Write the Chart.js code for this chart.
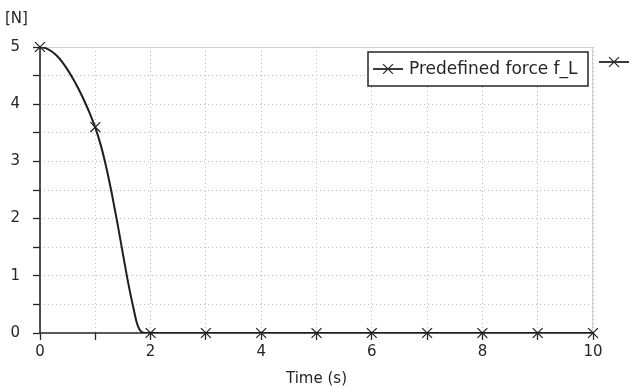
<!DOCTYPE html>
<html>
<head>
<meta charset="utf-8">
<script src="https://cdn.jsdelivr.net/npm/chart.js@4"></script>
<style>
  html, body { margin: 0; padding: 0; background: #fff; }
  #wrap { width: 637px; height: 389px; position: relative; }
</style>
</head>
<body>
<div id="wrap"><canvas id="forceChart"></canvas></div>
<script>
// curve (time in s, force in N)
const curveTime  = [0, 0.1, 0.2, 0.3, 0.4, 0.5, 0.6, 0.7, 0.8, 0.9, 1.0, 1.1, 1.2, 1.3, 1.4, 1.5, 1.6, 1.7, 1.75, 1.8, 1.85, 1.9, 2, 3, 4, 5, 6, 7, 8, 9, 10];
const curveForce = [5, 4.98, 4.93, 4.85, 4.74, 4.60, 4.44, 4.26, 4.06, 3.84, 3.59, 3.28, 2.89, 2.43, 1.92, 1.38, 0.85, 0.39, 0.18, 0.06, 0.01, 0, 0, 0, 0, 0, 0, 0, 0, 0, 0];
// sampled markers
const markerTime  = [0, 1, 2, 3, 4, 5, 6, 7, 8, 9, 10];
const markerForce = [5, 3.6, 0, 0, 0, 0, 0, 0, 0, 0, 0];
const seriesLabel = 'Predefined force f_L';
const yUnit = '[N]';
const xTitle = 'Time (s)';

const ink = '#262626';
const fontFam = "'DejaVu Sans', sans-serif";

function drawCross(ctx, x, y, r) {
    const d = r * Math.SQRT1_2;
    ctx.beginPath();
    ctx.moveTo(x - d, y - d); ctx.lineTo(x + d, y + d);
    ctx.moveTo(x - d, y + d); ctx.lineTo(x + d, y - d);
    ctx.stroke();
}

const framePlugin = {
    id: 'frame',
    beforeDatasetsDraw(chart) {
        const { ctx, chartArea: a } = chart;
        ctx.save();
        ctx.lineWidth = 1;
        ctx.strokeStyle = '#cfcfcf';
        ctx.beginPath();
        ctx.moveTo(a.left, a.top + 0.5); ctx.lineTo(a.right, a.top + 0.5);
        ctx.moveTo(a.right - 0.5, a.top); ctx.lineTo(a.right - 0.5, a.bottom);
        ctx.stroke();
        ctx.lineWidth = 1.6;
        ctx.strokeStyle = ink;
        ctx.beginPath();
        ctx.moveTo(a.left, a.top); ctx.lineTo(a.left, a.bottom);
        ctx.lineTo(a.right, a.bottom);
        ctx.stroke();
        ctx.restore();
    },
    afterDraw(chart) {
        const { ctx } = chart;
        ctx.save();
        ctx.fillStyle = ink;
        ctx.font = '15px ' + fontFam;
        ctx.textBaseline = 'middle';
        ctx.fillText(yUnit, 5, 19);

        // legend box inside the plot
        const bx = 368, by = 52, bw = 220, bh = 34;
        ctx.fillStyle = '#fff';
        ctx.fillRect(bx, by, bw, bh);
        ctx.lineWidth = 1.5;
        ctx.strokeStyle = ink;
        ctx.strokeRect(bx, by, bw, bh);
        const ly = by + bh / 2;
        ctx.lineWidth = 1.8;
        ctx.beginPath(); ctx.moveTo(373, ly); ctx.lineTo(403, ly); ctx.stroke();
        ctx.lineWidth = 1.2;
        drawCross(ctx, 388, ly, 7);
        ctx.fillStyle = ink;
        ctx.font = '17px ' + fontFam;
        ctx.fillText(seriesLabel, 409, ly + 1);

        // stray legend sample right of the plot
        ctx.lineWidth = 1.8;
        ctx.beginPath(); ctx.moveTo(599, 62); ctx.lineTo(629, 62); ctx.stroke();
        ctx.lineWidth = 1.2;
        drawCross(ctx, 614, 62, 7);
        ctx.restore();
    }
};

new Chart(document.getElementById('forceChart'), {
    type: 'line',
    data: {
        datasets: [
            {
                label: seriesLabel,
                data: curveTime.map((t, i) => ({ x: t, y: curveForce[i] })),
                borderColor: '#1e1e1e', borderWidth: 2, pointRadius: 0,
                cubicInterpolationMode: 'monotone', fill: false
            },
            {
                label: 'markers',
                data: markerTime.map((t, i) => ({ x: t, y: markerForce[i] })),
                showLine: false, pointStyle: 'crossRot', pointRadius: 7,
                borderColor: '#1e1e1e', borderWidth: 1.2, clip: false
            }
        ]
    },
    options: {
        responsive: true, maintainAspectRatio: false, animation: false,
        layout: { padding: { top: 47, right: 44, left: 0, bottom: 0 } },
        plugins: { legend: { display: false }, tooltip: { enabled: false } },
        scales: {
            x: {
                type: 'linear', min: 0, max: 10,
                afterFit: s => { s.height = 56; },
                border: { display: false, dash: [1, 3] },
                grid: { color: '#bdbdbd', tickColor: ink, tickLength: 7, tickWidth: 1.3, tickBorderDash: [] },
                ticks: {
                    stepSize: 1, autoSkip: false, maxRotation: 0, padding: 3, color: ink,
                    font: { family: fontFam, size: 15 },
                    callback: v => (v % 2 === 0 ? v : '')
                },
                title: { display: true, text: xTitle, color: ink, font: { family: fontFam, size: 15 }, padding: { top: 0, bottom: 1 } }
            },
            y: {
                min: 0, max: 5,
                afterFit: s => { s.width = 40; },
                border: { display: false, dash: [1, 3] },
                grid: { color: '#bdbdbd', tickColor: ink, tickLength: 7, tickWidth: 1.3, tickBorderDash: [] },
                ticks: {
                    stepSize: 0.5, autoSkip: false, padding: 13, color: ink,
                    font: { family: fontFam, size: 15 },
                    callback: v => (v % 1 === 0 ? v : '')
                }
            }
        }
    },
    plugins: [framePlugin]
});
</script>
</body>
</html>
